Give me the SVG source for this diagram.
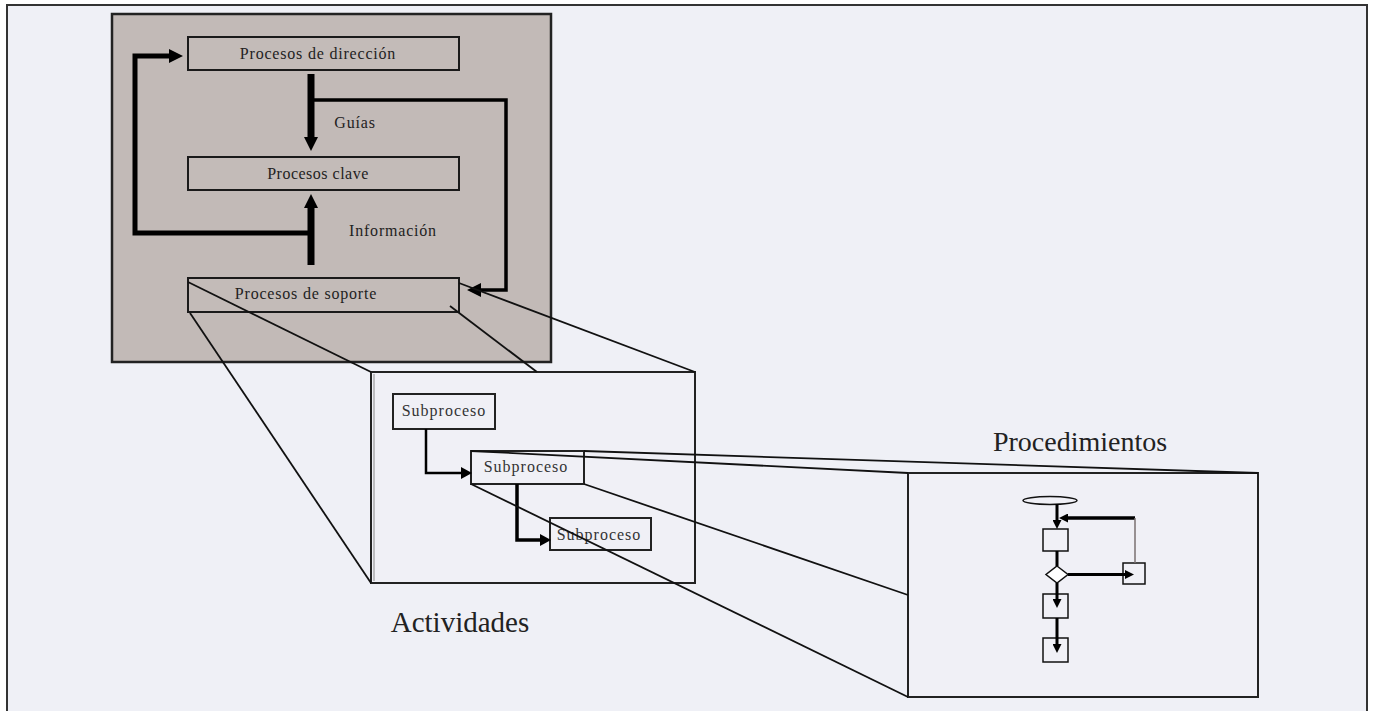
<svg xmlns="http://www.w3.org/2000/svg" width="1373" height="711" viewBox="0 0 1373 711">
<defs>
<style>
.lbl{font-family:"Liberation Serif","Times New Roman",serif;font-size:16px;letter-spacing:0.8px;fill:#222;text-anchor:middle}
.sub{font-family:"Liberation Serif","Times New Roman",serif;font-size:16px;letter-spacing:1px;fill:#333;text-anchor:middle}
.big{font-family:"Liberation Serif","Times New Roman",serif;fill:#222;text-anchor:middle}
.box{fill:#c3bbb8;stroke:#1a1a1a;stroke-width:2}
.wbox{fill:#f0f0f6;stroke:#222;stroke-width:2}
.fbox{fill:none;stroke:#111;stroke-width:1.5}
.zoom{fill:none;stroke:#111;stroke-width:1.8}
.arr{fill:none;stroke:#000;stroke-linejoin:miter}
</style>
<marker id="hL" markerUnits="userSpaceOnUse" markerWidth="14" markerHeight="14" refX="0" refY="7" orient="auto"><path d="M0,0 L14,7 L0,14 z" fill="#000"/></marker>
<marker id="hM" markerUnits="userSpaceOnUse" markerWidth="11" markerHeight="12" refX="0" refY="6" orient="auto"><path d="M0,0 L11,6 L0,12 z" fill="#000"/></marker>
<marker id="hS" markerUnits="userSpaceOnUse" markerWidth="9" markerHeight="9" refX="0" refY="4.5" orient="auto"><path d="M0,0 L9,4.5 L0,9 z" fill="#000"/></marker>
</defs>
<rect x="0" y="0" width="1373" height="711" fill="#ffffff"/>
<rect x="7" y="5" width="1360" height="720" fill="#eff0f6" stroke="#333" stroke-width="2"/>

<g id="panel-procesos">
<rect x="112" y="14" width="439" height="348" fill="#c2bab7" stroke="#222" stroke-width="2.5"/>
</g>

<g id="node-direccion">
<rect class="box" x="188" y="37" width="271" height="33"/>
<text class="lbl" x="318" y="59">Procesos de dirección</text>
</g>
<g id="node-clave">
<rect class="box" x="188" y="157" width="271" height="33"/>
<text class="lbl" x="318" y="179" style="letter-spacing:0.5px">Procesos clave</text>
</g>
<g id="node-soporte">
<rect class="box" x="188" y="278" width="271" height="34"/>
<text class="lbl" x="306" y="299">Procesos de soporte</text>
</g>
<text class="lbl" x="355" y="128">Guías</text>
<text class="lbl" x="393" y="236">Información</text>

<g id="node-actividades">
<rect class="wbox" x="371" y="372" width="324" height="211"/>
<line x1="374" y1="374" x2="374" y2="581" stroke="#8a8a8a" stroke-width="1"/>
</g>
<g id="node-sub1">
<rect class="wbox" x="393" y="394" width="102" height="35" stroke-width="1.8"/>
<text class="sub" x="444" y="416">Subproceso</text>
</g>
<g id="node-sub2">
<rect class="wbox" x="471" y="451" width="113" height="33" stroke-width="1.8"/>
<text class="sub" x="526" y="472">Subproceso</text>
</g>
<g id="node-sub3">
<rect class="wbox" x="550" y="518" width="101" height="32" stroke-width="1.8"/>
<text class="sub" x="599" y="540">Subproceso</text>
</g>
<text class="big" x="460" y="632" font-size="29">Actividades</text>

<g id="node-procedimientos">
<rect class="wbox" x="908" y="473" width="350" height="224"/>
</g>
<text class="big" x="1080" y="451" font-size="28">Procedimientos</text>

<g id="flowchart">
<ellipse cx="1050" cy="500.5" rx="27" ry="4" fill="none" stroke="#111" stroke-width="1.5"/>
<rect class="fbox" x="1043" y="529" width="25" height="22"/>
<polygon points="1057,566 1068,574.5 1057,583 1046,574.5" fill="#fff" stroke="#111" stroke-width="1.5"/>
<rect class="fbox" x="1123" y="563" width="22" height="21"/>
<rect class="fbox" x="1043" y="594" width="25" height="24"/>
<rect class="fbox" x="1043" y="638" width="25" height="24"/>
</g>

<g id="connectors">
<path class="arr" d="M311,233 H135 V56 H169" stroke-width="5" marker-end="url(#hL)"/>
<path class="arr" d="M311,74 V137" stroke-width="7" marker-end="url(#hL)"/>
<path class="arr" d="M311,100 H506 V290 H481" stroke-width="3.5" marker-end="url(#hL)"/>
<path class="arr" d="M311,265 V208" stroke-width="7" marker-end="url(#hL)"/>

<path class="arr" d="M426,429 V473 H461" stroke-width="2.5" marker-end="url(#hM)"/>
<path class="arr" d="M517,484 V540 H540" stroke-width="3.5" marker-end="url(#hM)"/>

<path class="arr" d="M1057,504 V520" stroke-width="3" marker-end="url(#hS)"/>
<path class="arr" d="M1135,518 H1068" stroke-width="3.5" marker-end="url(#hS)"/>
<path d="M1135,518 V563" stroke="#7a7070" stroke-width="1.5" fill="none"/>
<path class="arr" d="M1057,551 V566" stroke-width="3"/>
<path class="arr" d="M1068,574.5 H1125" stroke-width="3" marker-end="url(#hS)"/>
<path class="arr" d="M1057,583 V599" stroke-width="3" marker-end="url(#hS)"/>
<path class="arr" d="M1057,618 V644" stroke-width="3" marker-end="url(#hS)"/>

<line class="zoom" x1="188" y1="282" x2="371" y2="372"/>
<line class="zoom" x1="190" y1="313" x2="371" y2="583"/>
<line class="zoom" x1="450" y1="306" x2="537" y2="372"/>
<line class="zoom" x1="459" y1="283" x2="695" y2="372"/>
<line class="zoom" x1="471" y1="451" x2="908" y2="473"/>
<line class="zoom" x1="584" y1="451" x2="1258" y2="473"/>
<line class="zoom" x1="584" y1="484" x2="908" y2="595"/>
<line class="zoom" x1="471" y1="484" x2="908" y2="697"/>
</g>
</svg>
